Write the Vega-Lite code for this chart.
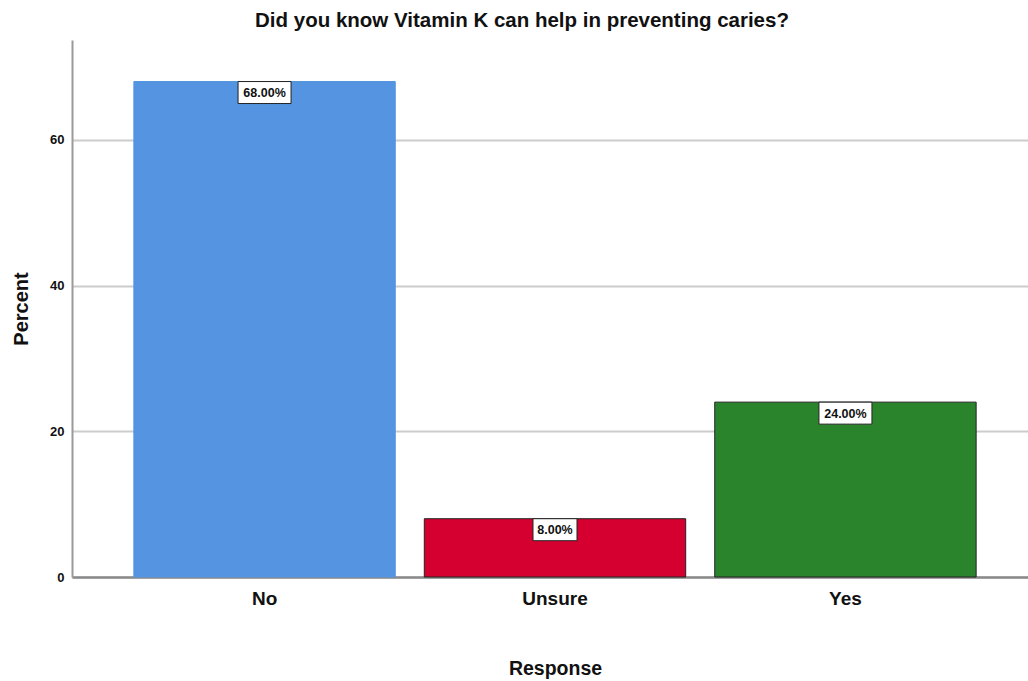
{
  "$schema": "https://vega.github.io/schema/vega-lite/v6.json",
  "autosize": "none",
  "padding": {"left": 72, "top": 40, "right": 0, "bottom": 104},
  "width": 966,
  "height": 537,
  "background": "white",
  "title": {
    "text": "Did you know Vitamin K can help in preventing caries?",
    "font": "Liberation Sans",
    "fontSize": 20.5,
    "fontWeight": "bold",
    "color": "#111",
    "anchor": "middle",
    "frame": "group",
    "dx": -33,
    "offset": 9
  },
  "data": {
    "values": [
      {"Response": "No", "pct": 68, "label": "68.00%"},
      {"Response": "Unsure", "pct": 8, "label": "8.00%"},
      {"Response": "Yes", "pct": 24, "label": "24.00%"}
    ]
  },
  "config": {
    "view": {"stroke": null},
    "axis": {"labelFont": "Liberation Sans", "titleFont": "Liberation Sans", "labelColor": "#111", "titleColor": "#111"}
  },
  "encoding": {
    "x": {
      "field": "Response",
      "type": "nominal",
      "sort": ["No", "Unsure", "Yes"],
      "scale": {"paddingInner": 0.1, "paddingOuter": 0.213},
      "axis": {
        "title": "Response",
        "labelAngle": 0,
        "labelFontSize": 19,
        "labelFontWeight": "bold",
        "labelPadding": 12,
        "ticks": false,
        "domainColor": "#8a8a8a",
        "domainWidth": 2.5,
        "titleFontSize": 19.5,
        "titleFontWeight": "bold",
        "titlePadding": 51,
        "grid": false
      }
    },
    "y": {
      "field": "pct",
      "type": "quantitative",
      "scale": {"domain": [0, 73.7], "nice": false},
      "axis": {
        "title": "Percent",
        "values": [0, 20, 40, 60],
        "labelFontSize": 13,
        "labelFontWeight": "bold",
        "labelPadding": 8,
        "ticks": false,
        "domainColor": "#9a9a9a",
        "domainWidth": 2,
        "gridColor": "#cccccc",
        "gridWidth": 2,
        "titleFontSize": 20,
        "titleFontWeight": "bold",
        "titlePadding": 18
      }
    }
  },
  "layer": [
    {
      "mark": {"type": "bar", "strokeWidth": 1},
      "encoding": {
        "color": {
          "field": "Response",
          "type": "nominal",
          "scale": {"domain": ["No", "Unsure", "Yes"], "range": ["#5494E1", "#D5002F", "#2A842B"]},
          "legend": null
        },
        "stroke": {
          "condition": {"test": "datum.Response == 'No'", "value": "#5494E1"},
          "value": "#222222"
        }
      }
    },
    {
      "mark": {"type": "bar", "fill": "white", "stroke": "#222222", "strokeWidth": 1, "width": {"expr": "datum.pct < 10 ? 44 : 53"}, "y2Offset": 22},
      "encoding": {
        "y2": {"field": "pct"}
      }
    },
    {
      "mark": {"type": "text", "font": "Liberation Sans", "fontSize": 12.5, "fontWeight": "bold", "color": "#111", "baseline": "middle", "dy": 11.5},
      "encoding": {
        "text": {"field": "label"}
      }
    }
  ]
}
